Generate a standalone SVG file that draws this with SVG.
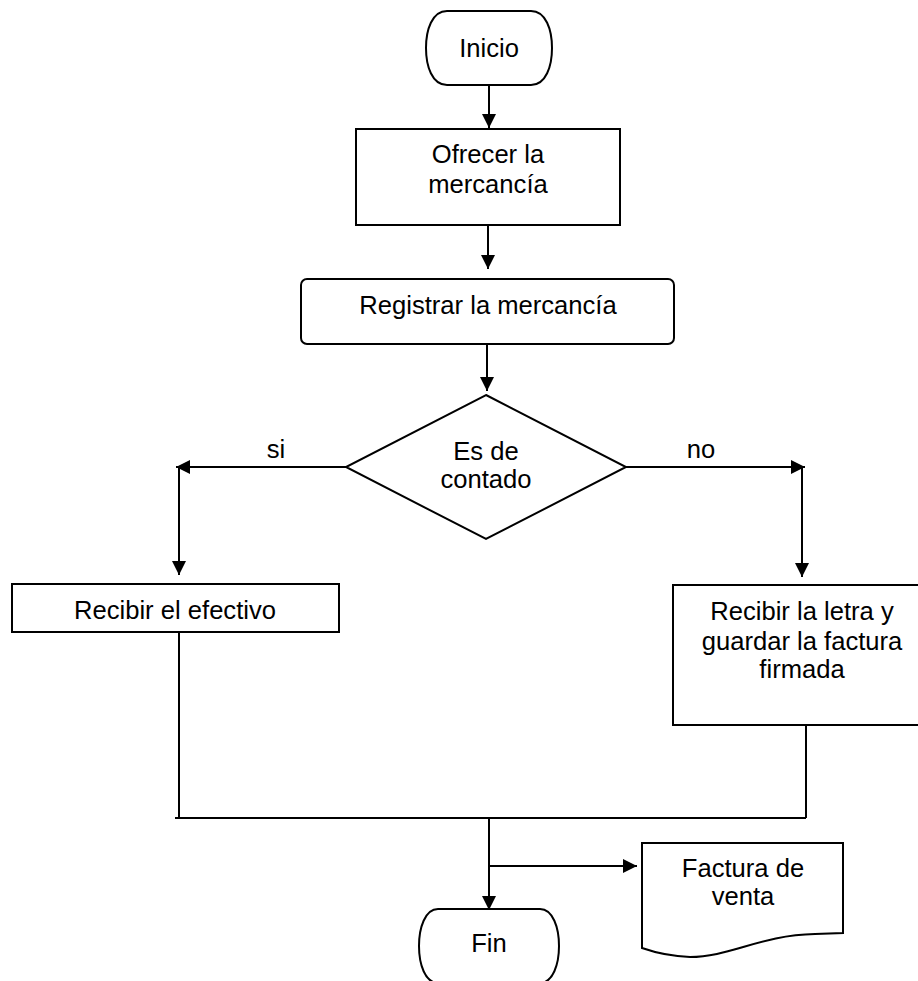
<svg xmlns="http://www.w3.org/2000/svg" width="918" height="981" viewBox="0 0 918 981">
<defs>
<style>
.s{fill:#fff;stroke:#000;stroke-width:2}
.c{fill:none;stroke:#000;stroke-width:2}
text{font-family:"Liberation Sans",Arial,sans-serif;font-size:25.6px;fill:#000;text-anchor:middle}
</style>
<marker id="a" markerUnits="userSpaceOnUse" markerWidth="16" markerHeight="16" viewBox="0 0 16 16" refX="15" refY="8" orient="auto">
<path d="M1,1 L15,8 L1,15 Z" fill="#000"/>
</marker>
</defs>
<rect width="918" height="981" fill="#fff"/>
<g id="connectors">
<line class="c" x1="489" y1="85" x2="489" y2="128" marker-end="url(#a)"/>
<line class="c" x1="488" y1="225" x2="488" y2="269" marker-end="url(#a)"/>
<line class="c" x1="487" y1="344" x2="487" y2="391" marker-end="url(#a)"/>
<line class="c" x1="346" y1="467" x2="176" y2="467" marker-end="url(#a)"/>
<line class="c" x1="179" y1="467" x2="179" y2="575" marker-end="url(#a)"/>
<line class="c" x1="626" y1="467" x2="805" y2="467" marker-end="url(#a)"/>
<line class="c" x1="802" y1="467" x2="802" y2="577" marker-end="url(#a)"/>
<polyline class="c" points="179,632 179,818"/>
<polyline class="c" points="806,725 806,818"/>
<line class="c" x1="175" y1="818" x2="806" y2="818"/>
<line class="c" x1="489" y1="818" x2="489" y2="910" marker-end="url(#a)"/>
<line class="c" x1="489" y1="866" x2="637" y2="866" marker-end="url(#a)"/>
</g>
<g id="inicio">
<path class="s" d="M447,11 H531 C546,11 552,30 552,48 C552,66 546,85 531,85 H447 C432,85 426,66 426,48 C426,30 432,11 447,11 Z"/>
<text x="489" y="57">Inicio</text>
</g>
<g id="ofrecer">
<rect class="s" x="356" y="129" width="264" height="96"/>
<text x="488" y="163">Ofrecer la</text>
<text x="488" y="193">mercancía</text>
</g>
<g id="registrar">
<rect class="s" x="301" y="279" width="373" height="65" rx="6"/>
<text x="488" y="314">Registrar la mercancía</text>
</g>
<g id="decision">
<polygon class="s" points="486,395 626,467 486,539 346,467"/>
<text x="486" y="460">Es de</text>
<text x="486" y="488">contado</text>
</g>
<g id="labels">
<text x="276" y="458">si</text>
<text x="701" y="458">no</text>
</g>
<g id="efectivo">
<rect class="s" x="12" y="584" width="327" height="48"/>
<text x="175" y="619">Recibir el efectivo</text>
</g>
<g id="letra">
<rect class="s" x="673" y="585" width="260" height="140"/>
<text x="802" y="620">Recibir la letra y</text>
<text x="802" y="650">guardar la factura</text>
<text x="802" y="678">firmada</text>
</g>
<g id="factura">
<path class="s" d="M642,843 H843 V933 L815,934 C760,935 730,957 690,957 Q665,956 642,948 Z"/>
<text x="743" y="877">Factura de</text>
<text x="743" y="905">venta</text>
</g>
<g id="fin">
<path class="s" d="M438,909 H540 C553,909 559,928 559,946 C559,964 553,983 540,983 H438 C425,983 419,964 419,946 C419,928 425,909 438,909 Z"/>
<text x="489" y="952">Fin</text>
</g>
</svg>
